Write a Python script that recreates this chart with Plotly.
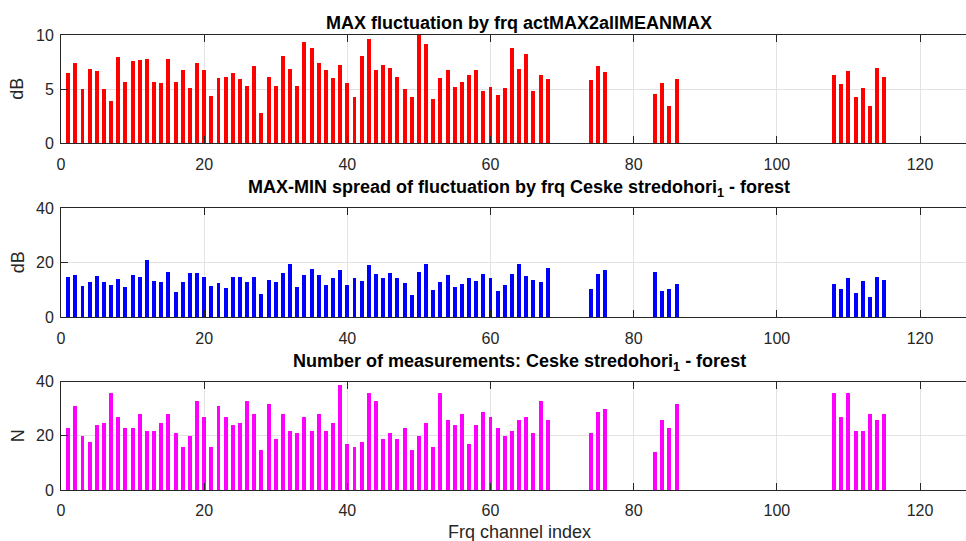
import plotly.graph_objects as go

# Channel indices present
chan = list(range(1, 69)) + [74, 75, 76] + [83, 84, 85, 86] + list(range(108, 116))

max_fluct = [6.5, 7.4, 5.0, 6.9, 6.7, 5.0, 3.9, 8.0, 5.7, 7.6,
             7.7, 7.8, 5.7, 5.6, 7.8, 5.7, 6.8, 5.1, 7.4, 6.8,
             4.35, 6.0, 6.15, 6.45, 5.95, 5.25, 7.1, 2.8, 6.1, 5.25,
             8.05, 6.9, 5.25, 9.4, 8.8, 7.4, 6.8, 6.0, 7.25, 5.6,
             4.25, 8.1, 9.6, 6.75, 7.25, 6.95, 6.15, 5.0, 4.25, 10.0,
             9.2, 4.05, 6.0, 6.75, 5.2, 5.7, 6.3, 6.8, 4.85, 5.2,
             4.5, 5.1, 8.8, 6.85, 8.2, 4.85, 6.3, 5.95,
             5.8, 7.1, 6.6,
             4.55, 5.55, 3.4, 5.95,
             6.3, 5.5, 6.7, 4.3, 5.15, 3.45, 6.95, 6.15]

spread = [14.8, 15.4, 11.4, 12.7, 15.0, 12.7, 11.7, 13.9, 11.0, 15.4,
          14.6, 20.9, 13.3, 12.7, 16.5, 9.3, 12.7, 16.3, 16.0, 14.6,
          11.4, 12.5, 10.6, 14.8, 14.6, 12.7, 14.8, 8.4, 13.6, 12.7,
          16.0, 19.4, 11.0, 15.4, 17.7, 15.4, 11.9, 14.4, 17.1, 11.6,
          14.4, 13.3, 19.2, 15.7, 14.4, 16.3, 14.4, 12.5, 8.1, 16.5,
          19.4, 9.9, 12.7, 15.4, 11.0, 12.2, 14.2, 13.1, 15.9, 14.2,
          9.5, 11.9, 15.7, 19.4, 15.0, 13.6, 12.7, 18.0,
          10.2, 15.7, 17.4,
          16.5, 9.5, 10.2, 12.2,
          12.2, 10.2, 14.2, 8.9, 13.1, 7.5, 14.8, 13.6]

n_meas = [23, 31, 20, 18, 24, 25, 36, 27, 23, 23,
          28, 22, 22, 25, 28, 21, 16, 20, 33, 27,
          16, 31, 27, 24, 25, 33, 28, 15, 32, 19,
          28, 22, 21, 27, 22, 28, 22, 25, 39, 17,
          16, 18, 36, 33, 19, 21, 19, 23, 15, 20,
          25, 16, 36, 26, 24, 28, 17, 24, 29, 27,
          23, 20, 22, 26, 27, 21, 33, 26,
          21, 29, 30,
          14, 26, 23, 32,
          36, 27, 36, 22, 22, 28, 26, 28]

titles = ["MAX fluctuation by frq actMAX2allMEANMAX",
          "MAX-MIN spread of fluctuation by frq Ceske stredohori<sub>1</sub> - forest",
          "Number of measurements: Ceske stredohori<sub>1</sub> - forest"]
ylabels = ["dB", "dB", "N"]
xlabel = "Frq channel index"
colors = ["#ff0000", "#0000ff", "#ff00ff"]
series = [max_fluct, spread, n_meas]
yranges = [[0, 10], [0, 40], [0, 40]]
ytickvals = [[0, 5, 10], [0, 20, 40], [0, 20, 40]]
xticks = [0, 20, 40, 60, 80, 100, 120]

W, H = 966, 541
x0px = 61
px_per_unit = (920 - 61) / 120.0
xmax = (W - x0px) / px_per_unit
title_cx = 519
# plot areas in pixel (top, bottom)
areas = [(35, 143.3), (208.3, 317.3), (381.7, 490)]
title_base_gap = [0, 6, 6]

fig = go.Figure()
axcol = "#262626"
font = "Liberation Sans, Arial, sans-serif"

for i in range(3):
    sfx = "" if i == 0 else str(i + 1)
    fig.add_trace(go.Bar(x=chan, y=series[i], width=0.55,
                         marker=dict(color=colors[i], line=dict(width=0)),
                         xaxis="x" + sfx, yaxis="y" + sfx, showlegend=False))
    top, bot = areas[i]
    dom = [1 - bot / H, 1 - top / H]
    fig.update_layout(**{
        "xaxis" + sfx: dict(domain=[x0px / W, 1], range=[0, xmax],
                            tickvals=xticks, ticks="inside", ticklen=7,
                            tickcolor=axcol, showline=True, linecolor=axcol,
                            linewidth=1, mirror="ticks", showgrid=True,
                            gridcolor="#e3e3e3", zeroline=False, automargin=False,
                            ticklabelstandoff=6,
                            tickfont=dict(size=16, color=axcol, family=font),
                            anchor="y" + sfx),
        "yaxis" + sfx: dict(domain=dom, range=yranges[i], tickvals=ytickvals[i],
                            ticks="inside", ticklen=7, tickcolor=axcol,
                            showline=True, linecolor=axcol, linewidth=1,
                            showgrid=True, gridcolor="#e3e3e3", zeroline=False,
                            automargin=False, ticklabelstandoff=3,
                            tickfont=dict(size=16, color=axcol, family=font),
                            anchor="x" + sfx),
    })
    fig.add_annotation(text="<b>" + titles[i] + "</b>", xref="paper", yref="paper",
                       x=title_cx / W, y=1 - (top - title_base_gap[i]) / H,
                       xanchor="center", yanchor="bottom", showarrow=False,
                       font=dict(size=18, color="#000000", family=font))
    fig.add_annotation(text=ylabels[i], xref="paper", yref="paper",
                       x=17.5 / W, y=1 - (top + bot) / 2 / H, textangle=-90,
                       xanchor="center", yanchor="middle", showarrow=False,
                       font=dict(size=18, color=axcol, family=font))

fig.add_annotation(text=xlabel, xref="paper", yref="paper",
                   x=title_cx / W, y=1 - 532 / H, xanchor="center", yanchor="middle",
                   showarrow=False, font=dict(size=18, color=axcol, family=font))

fig.update_layout(width=W, height=H, margin=dict(l=0, r=0, t=0, b=0),
                  plot_bgcolor="white", paper_bgcolor="white", bargap=0)

fig.write_html("out.html")
